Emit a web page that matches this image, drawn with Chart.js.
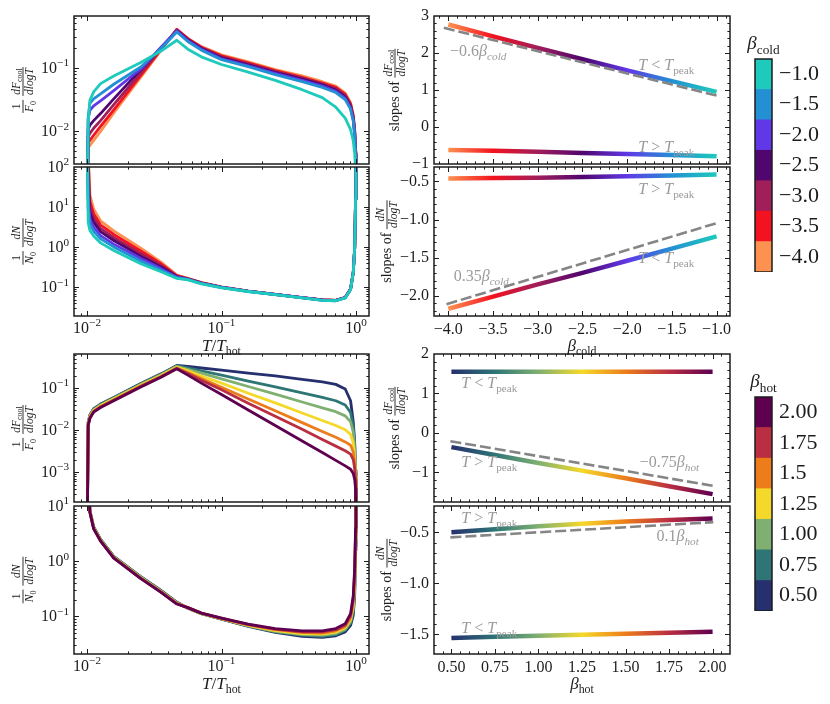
<!DOCTYPE html>
<html>
<head>
<meta charset="utf-8">
<title>cooling flow distributions and slopes</title>
<script src="https://cdn.jsdelivr.net/npm/chart.js@4.4.1/dist/chart.umd.min.js"></script>
<style>
  html, body { margin: 0; padding: 0; background: #fff; }
  #fig { position: relative; width: 830px; height: 704px; overflow: hidden; background: #fff; }
  #fig .box { position: absolute; }
</style>
</head>
<body>
<div id="fig"></div>
<script>
// ---------------- data ----------------
// T / T_hot grid shared by the four left panels
const tGrid = [0.0100, 0.0102, 0.0105, 0.0112, 0.0126, 0.0158, 0.0251, 0.0355, 0.0465,
  0.0562, 0.0708, 0.100, 0.158, 0.251, 0.398, 0.562, 0.708, 0.832, 0.912, 0.955, 0.979, 0.993, 1.000];

const betaCold = [-4.0, -3.5, -3.0, -2.5, -2.0, -1.5, -1.0];
const betaColdLabels = ['−4.0', '−3.5', '−3.0', '−2.5', '−2.0', '−1.5', '−1.0'];
const coldColors = ['#fc9150', '#f3121f', '#a01e5a', '#51056e', '#6038e7', '#2390d3', '#1ecabc'];

// log10 of (1/F0) dF_cool/dlogT, one row per beta_cold
const coldFluxLog = [
  [-3.5, -2.25, -2.22, -2.14, -2.00, -1.71, -1.15, -0.73, -0.40, -0.54, -0.67, -0.80, -0.91, -1.03, -1.13, -1.22, -1.29, -1.40, -1.55, -1.74, -1.97, -2.30, -3.5],
  [-3.5, -2.17, -2.14, -2.06, -1.92, -1.66, -1.12, -0.715, -0.40, -0.545, -0.68, -0.815, -0.925, -1.045, -1.15, -1.24, -1.31, -1.42, -1.57, -1.76, -1.99, -2.32, -3.5],
  [-3.5, -2.08, -2.03, -1.95, -1.83, -1.58, -1.08, -0.70, -0.41, -0.555, -0.69, -0.83, -0.94, -1.06, -1.165, -1.255, -1.33, -1.44, -1.59, -1.78, -2.01, -2.34, -3.5],
  [-3.5, -1.97, -1.90, -1.83, -1.72, -1.49, -1.03, -0.69, -0.42, -0.565, -0.70, -0.845, -0.955, -1.075, -1.18, -1.27, -1.35, -1.46, -1.61, -1.80, -2.03, -2.36, -3.5],
  [-3.5, -1.80, -1.67, -1.60, -1.52, -1.36, -1.02, -0.68, -0.42, -0.575, -0.71, -0.86, -0.97, -1.09, -1.20, -1.29, -1.37, -1.48, -1.63, -1.82, -2.05, -2.38, -3.5],
  [-3.5, -1.78, -1.56, -1.49, -1.41, -1.26, -0.99, -0.70, -0.44, -0.59, -0.725, -0.875, -0.985, -1.11, -1.22, -1.31, -1.39, -1.50, -1.65, -1.84, -2.07, -2.40, -3.5],
  [-3.5, -1.85, -1.51, -1.38, -1.25, -1.13, -0.92, -0.74, -0.57, -0.71, -0.83, -0.95, -1.07, -1.20, -1.345, -1.47, -1.62, -1.79, -1.97, -2.15, -2.35, -2.60, -3.5]
];
// log10 of (1/N0) dN/dlogT, one row per beta_cold
const coldCountLog = [
  [3.0, 2.50, 1.30, 0.95, 0.66, 0.41, -0.02, -0.37, -0.69, -0.77, -0.88, -0.985, -1.09, -1.17, -1.25, -1.31, -1.32, -1.25, -1.04, -0.62, 0.0, 1.2, 3.0],
  [3.0, 2.16, 1.14, 0.83, 0.56, 0.32, -0.09, -0.41, -0.705, -0.78, -0.88, -0.99, -1.09, -1.17, -1.25, -1.31, -1.32, -1.25, -1.04, -0.62, 0.0, 1.2, 3.0],
  [3.0, 1.84, 0.99, 0.72, 0.47, 0.24, -0.16, -0.45, -0.72, -0.785, -0.885, -0.99, -1.09, -1.17, -1.25, -1.31, -1.32, -1.25, -1.04, -0.62, 0.0, 1.2, 3.0],
  [3.0, 1.56, 0.86, 0.62, 0.39, 0.17, -0.22, -0.49, -0.73, -0.79, -0.89, -0.995, -1.09, -1.17, -1.25, -1.31, -1.32, -1.25, -1.04, -0.62, 0.0, 1.2, 3.0],
  [3.0, 1.24, 0.71, 0.50, 0.29, 0.08, -0.28, -0.53, -0.745, -0.795, -0.895, -1.0, -1.095, -1.175, -1.255, -1.315, -1.325, -1.255, -1.045, -0.625, 0.0, 1.2, 3.0],
  [3.0, 0.96, 0.58, 0.40, 0.21, 0.01, -0.34, -0.57, -0.76, -0.80, -0.90, -1.0, -1.10, -1.18, -1.26, -1.32, -1.33, -1.26, -1.05, -0.63, 0.0, 1.2, 3.0],
  [3.0, 0.62, 0.42, 0.28, 0.11, -0.08, -0.41, -0.61, -0.775, -0.81, -0.91, -1.01, -1.10, -1.18, -1.26, -1.32, -1.33, -1.26, -1.05, -0.63, 0.0, 1.2, 3.0]
];

const betaHot = [0.50, 0.75, 1.00, 1.25, 1.50, 1.75, 2.00];
const betaHotLabels = ['0.50', '0.75', '1.00', '1.25', '1.5', '1.75', '2.00'];
const hotColors = ['#26306e', '#2e7576', '#7fb071', '#f5d92a', '#ec7d1a', '#ba2e42', '#5e004f'];

const hotFluxLog = [
  [-5, -1.81, -1.64, -1.49, -1.38, -1.22, -0.89, -0.66, -0.46, -0.48, -0.52, -0.57, -0.64, -0.71, -0.79, -0.85, -0.91, -1.02, -1.30, -1.80, -2.30, -2.95, -5],
  [-5, -1.82, -1.65, -1.50, -1.39, -1.23, -0.90, -0.67, -0.47, -0.52, -0.59, -0.69, -0.83, -0.97, -1.11, -1.22, -1.30, -1.40, -1.58, -1.90, -2.40, -3.00, -5],
  [-5, -1.83, -1.66, -1.51, -1.40, -1.24, -0.91, -0.68, -0.48, -0.55, -0.64, -0.78, -0.96, -1.14, -1.33, -1.47, -1.56, -1.66, -1.80, -2.05, -2.50, -3.05, -5],
  [-5, -1.85, -1.68, -1.53, -1.42, -1.26, -0.93, -0.70, -0.50, -0.59, -0.71, -0.88, -1.12, -1.35, -1.59, -1.77, -1.89, -1.99, -2.10, -2.30, -2.65, -3.10, -5],
  [-5, -1.87, -1.70, -1.55, -1.44, -1.28, -0.95, -0.72, -0.52, -0.63, -0.77, -0.98, -1.26, -1.54, -1.82, -2.03, -2.17, -2.28, -2.36, -2.52, -2.80, -3.15, -5],
  [-5, -1.88, -1.71, -1.56, -1.45, -1.29, -0.96, -0.73, -0.53, -0.65, -0.81, -1.04, -1.36, -1.67, -1.98, -2.22, -2.38, -2.49, -2.57, -2.70, -2.92, -3.20, -5],
  [-5, -1.89, -1.72, -1.57, -1.46, -1.30, -0.97, -0.74, -0.54, -0.69, -0.88, -1.15, -1.52, -1.89, -2.26, -2.53, -2.72, -2.85, -2.93, -3.03, -3.18, -3.40, -5]
];
const hotCountLog = [
  [3, 1.6, 0.92, 0.62, 0.40, 0.09, -0.28, -0.53, -0.74, -0.85, -0.95, -1.05, -1.18, -1.29, -1.36, -1.38, -1.35, -1.28, -1.16, -0.98, -0.60, 0.20, 3],
  [3, 1.6, 0.915, 0.615, 0.395, 0.085, -0.285, -0.535, -0.745, -0.85, -0.95, -1.05, -1.17, -1.28, -1.34, -1.36, -1.33, -1.25, -1.12, -0.92, -0.52, 0.27, 3],
  [3, 1.6, 0.91, 0.61, 0.39, 0.08, -0.29, -0.54, -0.75, -0.85, -0.95, -1.04, -1.17, -1.27, -1.33, -1.34, -1.31, -1.23, -1.09, -0.86, -0.43, 0.33, 3],
  [3, 1.6, 0.90, 0.60, 0.38, 0.07, -0.30, -0.55, -0.76, -0.845, -0.945, -1.04, -1.16, -1.255, -1.31, -1.32, -1.285, -1.205, -1.055, -0.80, -0.35, 0.40, 3],
  [3, 1.6, 0.895, 0.595, 0.375, 0.065, -0.305, -0.555, -0.765, -0.84, -0.94, -1.04, -1.15, -1.24, -1.29, -1.30, -1.26, -1.18, -1.02, -0.74, -0.26, 0.47, 3],
  [3, 1.6, 0.89, 0.59, 0.37, 0.06, -0.31, -0.56, -0.77, -0.84, -0.94, -1.03, -1.15, -1.23, -1.28, -1.28, -1.24, -1.155, -0.985, -0.68, -0.18, 0.53, 3],
  [3, 1.6, 0.885, 0.585, 0.365, 0.055, -0.315, -0.565, -0.775, -0.84, -0.94, -1.03, -1.14, -1.22, -1.26, -1.26, -1.22, -1.13, -0.95, -0.62, -0.10, 0.60, 3]
];

// fitted slopes (right panels)
const coldFluxSlopeBelow = [2.77, 2.45, 2.14, 1.83, 1.53, 1.24, 0.95];
const coldFluxSlopeAbove = [-0.62, -0.645, -0.67, -0.70, -0.73, -0.76, -0.79];
const coldFluxFitX = [-4.05, -0.97], coldFluxFitY = [2.68, 0.83];
const coldCountSlopeAbove = [-0.46, -0.455, -0.45, -0.44, -0.43, -0.42, -0.41];
const coldCountSlopeBelow = [-2.17, -2.01, -1.85, -1.70, -1.54, -1.38, -1.22];
const coldCountFitX = [-4.02, -0.98], coldCountFitY = [-2.11, -1.04];

const hotFluxSlopeBelow = [1.55, 1.55, 1.55, 1.55, 1.55, 1.55, 1.55];
const hotFluxSlopeAbove = [-0.36, -0.56, -0.76, -0.955, -1.15, -1.35, -1.55];
const hotFluxFitX = [0.494, 2.004], hotFluxFitY = [-0.21, -1.34];
const hotCountSlopeAbove = [-0.50, -0.47, -0.44, -0.415, -0.395, -0.38, -0.365];
const hotCountSlopeBelow = [-1.535, -1.525, -1.515, -1.505, -1.495, -1.485, -1.475];
const hotCountFitX = [0.494, 2.004], hotCountFitY = [-0.55, -0.40];

// tick labels
const logMajorsColdF = [0.01, 0.1];
const logMajorsColdN = [0.1, 1, 10, 100];
const logMajorsHotF = [0.001, 0.01, 0.1];
const logMajorsHotN = [0.1, 1, 10];
const logMajorsT = [0.01, 0.1, 1];
const ticksBetaCold = [-4.0, -3.5, -3.0, -2.5, -2.0, -1.5, -1.0];
const ticksBetaHot = [0.50, 0.75, 1.00, 1.25, 1.50, 1.75, 2.00];

// ---------------- drawing helpers ----------------
const FONT = '"Liberation Serif", "DejaVu Serif", serif';
const INK = '#1c1c1c';
const NOTE = '#9b9b9b';
const TICK_SIZE = 16;
const fig = document.getElementById('fig');

function partFont(fl, size) {
  const small = fl.indexOf('b') >= 0 || fl.indexOf('p') >= 0;
  return (fl.indexOf('i') >= 0 ? 'italic ' : '') + (small ? size * 0.7 : size).toFixed(1) + 'px ' + FONT;
}
function richWidth(ctx, parts, size) {
  let w = 0;
  parts.forEach(([t, fl]) => { ctx.font = partFont(fl, size); w += ctx.measureText(t).width; });
  return w;
}
function drawRich(ctx, parts, x, y, size, align) {
  const w = richWidth(ctx, parts, size);
  let cx = align === 'center' ? x - w / 2 : align === 'right' ? x - w : x;
  ctx.textAlign = 'left';
  ctx.textBaseline = 'alphabetic';
  parts.forEach(([t, fl]) => {
    ctx.font = partFont(fl, size);
    const dy = fl.indexOf('b') >= 0 ? size * 0.25 : fl.indexOf('p') >= 0 ? -size * 0.42 : 0;
    ctx.fillText(t, cx, y + dy);
    cx += ctx.measureText(t).width;
  });
  return w;
}
function fracWidth(ctx, num, den, size) {
  return Math.max(richWidth(ctx, num, size), richWidth(ctx, den, size)) + 2;
}
function drawFrac(ctx, num, den, x, y, size) {
  const w = fracWidth(ctx, num, den, size);
  drawRich(ctx, num, x + w / 2, y - size * 0.3, size, 'center');
  drawRich(ctx, den, x + w / 2, y + size * 0.85, size, 'center');
  ctx.fillRect(x, y - 0.45, w, 0.9);
  return w;
}
// vertical axis title made of plain text and fractions; x is the fraction bar
function drawYTitle(ctx, items, x, y, ts, fs) {
  ctx.save();
  ctx.translate(x, y);
  ctx.rotate(-Math.PI / 2);
  const widths = items.map(it => it.f ? fracWidth(ctx, it.f[0], it.f[1], fs) : it.gap ? it.gap : richWidth(ctx, it.t, ts));
  let cx = -widths.reduce((s, w) => s + w, 0) / 2;
  items.forEach((it, i) => {
    if (it.f) drawFrac(ctx, it.f[0], it.f[1], cx, 0, fs);
    else if (it.t) drawRich(ctx, it.t, cx, ts * 0.3, ts, 'left');
    cx += widths[i];
  });
  ctx.restore();
}
function expLabel(v) {
  const e = Math.round(Math.log10(v));
  return [['10', ''], [(e < 0 ? '−' : '') + Math.abs(e), 'p']];
}
function logMinors(min, max) {
  const out = [];
  for (let k = -5; k <= 3; k++) for (let m = 2; m <= 9; m++) {
    const v = m * Math.pow(10, k);
    if (v > min && v < max) out.push(v);
  }
  return out;
}
function linMinors(min, max, step) {
  const out = [];
  for (let k = Math.ceil(min / step); k * step < max; k++) out.push(+(k * step).toFixed(4));
  return out;
}
function ticksOn(ctx, a, scale, vals, len, isX) {
  ctx.beginPath();
  vals.forEach(v => {
    const p = Math.round(scale.getPixelForValue(v)) + 0.5;
    if (isX) {
      if (p < a.left + 1 || p > a.right - 1) return;
      ctx.moveTo(p, a.bottom); ctx.lineTo(p, a.bottom - len);
      ctx.moveTo(p, a.top); ctx.lineTo(p, a.top + len);
    } else {
      if (p < a.top + 1 || p > a.bottom - 1) return;
      ctx.moveTo(a.left, p); ctx.lineTo(a.left + len, p);
      ctx.moveTo(a.right, p); ctx.lineTo(a.right - len, p);
    }
  });
  ctx.stroke();
}

// frame, inward ticks on four sides, custom labels and notes
const mplPlugin = {
  id: 'mpl',
  afterDatasetsDraw(chart, args, o) {
    const { ctx, chartArea: a, scales } = chart;
    const xs = scales.x, ys = scales.y;
    ctx.save();
    if (o.notes) {
      ctx.fillStyle = NOTE;
      o.notes.forEach(n => drawRich(ctx, n.parts, xs.getPixelForValue(n.x), ys.getPixelForValue(n.y), 16, 'left'));
    }
    ctx.fillStyle = INK;
    ctx.strokeStyle = INK;
    ctx.lineWidth = 1.5;
    ctx.strokeRect(a.left, a.top, a.right - a.left, a.bottom - a.top);
    if (o.colorbar) {
      drawRich(ctx, o.colorbar, (a.left + a.right) / 2, a.top - 10, 19, 'center');
      ctx.restore();
      return;
    }
    ctx.lineWidth = 1;
    ticksOn(ctx, a, xs, xs.ticks.map(t => t.value), 5, true);
    ticksOn(ctx, a, ys, ys.ticks.map(t => t.value), 5, false);
    ticksOn(ctx, a, xs, o.minorX || [], 2.6, true);
    ticksOn(ctx, a, ys, o.minorY || [], 2.6, false);
    if (o.logLabelsY) ys.ticks.forEach(t => drawRich(ctx, expLabel(t.value), a.left - 5, ys.getPixelForValue(t.value) + 5, TICK_SIZE, 'right'));
    if (o.logLabelsX) xs.ticks.forEach(t => drawRich(ctx, expLabel(t.value), xs.getPixelForValue(t.value), a.bottom + 17, TICK_SIZE, 'center'));
    if (o.xTitle) drawRich(ctx, o.xTitle, (a.left + a.right) / 2, a.bottom + 35, 17, 'center');
    if (o.yTitle) drawYTitle(ctx, o.yTitle, a.left - o.yTitleDx, (a.top + a.bottom) / 2, 14, 11.5);
    ctx.restore();
  }
};

const fitW = w => s => { s.width = w; s.paddingTop = 0; s.paddingBottom = 0; };
const fitH = h => s => { s.height = h; s.paddingLeft = 0; s.paddingRight = 0; };
const fmt = d => v => (v < 0 ? '−' : '') + Math.abs(v).toFixed(d);

function logAxis(lim, majors, fit) {
  return {
    type: 'logarithmic', min: Math.pow(10, lim[0]), max: Math.pow(10, lim[1]),
    grid: { display: false, drawTicks: false }, border: { display: false }, ticks: { display: false },
    afterBuildTicks: s => { s.ticks = majors.map(v => ({ value: v })); },
    afterFit: fit
  };
}
function linAxis(lim, majors, fit, labels, isX) {
  return {
    type: 'linear', min: lim[0], max: lim[1],
    grid: { display: false, drawTicks: false }, border: { display: false },
    ticks: {
      display: !!labels, callback: labels || (() => ''), autoSkip: false, maxRotation: 0,
      color: INK, font: { family: FONT, size: TICK_SIZE }, padding: isX ? 4 : 5
    },
    afterBuildTicks: s => { s.ticks = majors.map(v => ({ value: v })); },
    afterFit: fit
  };
}
function lineSet(xs, ys, color, width, extra) {
  return Object.assign({
    data: xs.map((x, i) => ({ x: x, y: ys[i] })), borderColor: color, borderWidth: width,
    pointRadius: 0, tension: 0, fill: false, borderCapStyle: 'butt', borderJoinStyle: 'round'
  }, extra || {});
}
function gradStroke(colors, x0, x1) {
  return c => {
    const ch = c.chart, xs = ch.scales.x;
    if (!ch.chartArea || !xs) return colors[0];
    const g = ch.ctx.createLinearGradient(xs.getPixelForValue(x0), 0, xs.getPixelForValue(x1), 0);
    colors.forEach((col, i) => g.addColorStop(i / (colors.length - 1), col));
    return g;
  };
}
function makeChart(box, m, type, data, scales, mpl, padRight) {
  const W = m.l + box.w + m.r, H = m.t + box.h + m.b;
  const div = document.createElement('div');
  div.className = 'box';
  div.style.cssText = 'left:' + (box.x - m.l) + 'px;top:' + (box.y - m.t) + 'px;width:' + W + 'px;height:' + H + 'px';
  const cv = document.createElement('canvas');
  cv.width = W; cv.height = H;
  div.appendChild(cv);
  fig.appendChild(div);
  return new Chart(cv, {
    type: type, data: data, plugins: [mplPlugin],
    options: {
      responsive: false, animation: false, devicePixelRatio: 1, events: [],
      layout: { padding: { left: m.pl || 0, top: m.t, right: padRight, bottom: 0 } },
      scales: scales,
      plugins: { legend: { display: false }, tooltip: { enabled: false }, mpl: mpl }
    }
  });
}

// ---------------- layout ----------------
const colL = { x: 74, w: 295 }, colR = { x: 434, w: 296 };
const rowA = { y: 16, h: 148 }, rowB = { y: 167, h: 149 }, rowC = { y: 354, h: 148 }, rowD = { y: 506, h: 148 };
const tLim = [-2.097, 0.097];
const xTitleT = [['T', 'i'], ['/', ''], ['T', 'i'], ['hot', 'b']];
const titleF = [{ f: [[['1', '']], [['F', 'i'], ['0', 'b']]] }, { gap: 4 }, { f: [[['dF', 'i'], ['cool', 'b']], [['dlogT', 'i']]] }];
const titleN = [{ f: [[['1', '']], [['N', 'i'], ['0', 'b']]] }, { gap: 4 }, { f: [[['dN', 'i']], [['dlogT', 'i']]] }];
const slopeF = [{ t: [['slopes of ', '']] }, { f: [[['dF', 'i'], ['cool', 'b']], [['dlogT', 'i']]] }];
const slopeN = [{ t: [['slopes of ', '']] }, { f: [[['dN', 'i']], [['dlogT', 'i']]] }];
const tBelow = [['T', 'i'], [' < ', ''], ['T', 'i'], ['peak', 'b']];
const tAbove = [['T', 'i'], [' > ', ''], ['T', 'i'], ['peak', 'b']];

function leftPanel(col, row, yLim, yMajors, rows, colors, bottom, yTitle) {
  const m = { l: 74, r: 8, t: bottom ? 12 : 10, b: bottom ? 44 : 4 };
  const n = rows.length;
  const datasets = rows.map((r, i) => lineSet(tGrid, r.map(v => Math.pow(10, v)), colors[i], 2.8, { order: n - i }));
  const minY = Math.pow(10, yLim[0]), maxY = Math.pow(10, yLim[1]);
  return makeChart({ x: col.x, w: col.w, y: row.y, h: row.h }, m, 'line', { datasets: datasets }, {
    x: logAxis(tLim, logMajorsT, fitH(m.b)),
    y: logAxis(yLim, yMajors, fitW(m.l))
  }, {
    minorX: logMinors(Math.pow(10, tLim[0]), Math.pow(10, tLim[1])), minorY: logMinors(minY, maxY),
    logLabelsY: true, logLabelsX: bottom, xTitle: bottom ? xTitleT : null,
    yTitle: yTitle, yTitleDx: 51
  }, m.r);
}

function rightPanel(col, row, xLim, xMajors, xFmt, xMinStep, yLim, yMajors, yFmt, yMinStep, lines, notes, bottom, yTitle, dx, xTitle) {
  const m = { l: 64, r: 8, t: bottom ? 12 : 10, b: bottom ? 44 : 4 };
  return makeChart({ x: col.x, w: col.w, y: row.y, h: row.h }, m, 'line', { datasets: lines }, {
    x: linAxis(xLim, xMajors, fitH(m.b), bottom ? fmt(xFmt) : null, true),
    y: linAxis(yLim, yMajors, fitW(m.l), fmt(yFmt), false)
  }, {
    minorX: linMinors(xLim[0], xLim[1], xMinStep), minorY: linMinors(yLim[0], yLim[1], yMinStep),
    notes: notes, xTitle: bottom ? xTitle : null, yTitle: yTitle, yTitleDx: dx
  }, m.r);
}

function colorbar(row, labels, colors, title) {
  const m = { l: 16, pl: 16, r: 62, t: 40, b: 3 };
  const datasets = colors.map((c, i) => ({ data: [1], backgroundColor: c, borderWidth: 0, stack: 's' }));
  return makeChart({ x: 755, w: 17, y: row.y, h: row.h }, m, 'bar', { labels: ['cb'], datasets: datasets }, {
    x: { display: false, stacked: true },
    y: {
      type: 'linear', position: 'right', stacked: true, min: 0, max: labels.length,
      grid: { display: false, drawTicks: false }, border: { display: false },
      ticks: { callback: (v, i) => labels[i], color: INK, font: { family: FONT, size: 22 }, padding: 7, autoSkip: false },
      afterBuildTicks: s => { s.ticks = labels.map((l, i) => ({ value: i + 0.5 })); },
      afterFit: fitW(m.r)
    }
  }, { colorbar: title }, 0);
}
Chart.defaults.datasets.bar.barPercentage = 1;
Chart.defaults.datasets.bar.categoryPercentage = 1;

// ---------------- panels ----------------
leftPanel(colL, rowA, [-2.51, -0.19], logMajorsColdF, coldFluxLog, coldColors, false, titleF);
leftPanel(colL, rowB, [-1.71, 2.0], logMajorsColdN, coldCountLog, coldColors, true, titleN);
leftPanel(colL, rowC, [-3.71, -0.187], logMajorsHotF, hotFluxLog, hotColors, false, titleF);
leftPanel(colL, rowD, [-1.68, 1.0], logMajorsHotN, hotCountLog, hotColors, true, titleN);

const dash = { borderDash: [11, 4] };
const coldGrad = gradStroke(coldColors, betaCold[0], betaCold[betaCold.length - 1]);
const hotGrad = gradStroke(hotColors, betaHot[0], betaHot[betaHot.length - 1]);
const xLimCold = [-4.16, -0.85], xLimHot = [0.40, 2.10];
const xTitleCold = [['β', 'i'], ['cold', 'b']], xTitleHot = [['β', 'i'], ['hot', 'b']];

rightPanel(colR, rowA, xLimCold, ticksBetaCold, 1, 0.1, [-1, 3], [-1, 0, 1, 2, 3], 0, 0.2, [
  lineSet(coldFluxFitX, coldFluxFitY, '#858585', 2.6, dash),
  lineSet(betaCold, coldFluxSlopeBelow, coldGrad, 4.5),
  lineSet(betaCold, coldFluxSlopeAbove, coldGrad, 4.5)
], [
  { x: -3.98, y: 1.92, parts: [['−0.6', ''], ['β', 'i'], ['cold', 'ib']] },
  { x: -1.875, y: 1.55, parts: tBelow },
  { x: -1.875, y: -0.68, parts: tAbove }
], false, slopeF, 39);

rightPanel(colR, rowB, xLimCold, ticksBetaCold, 1, 0.1, [-2.265, -0.31], [-2.0, -1.5, -1.0, -0.5], 1, 0.1, [
  lineSet(coldCountFitX, coldCountFitY, '#858585', 2.6, dash),
  lineSet(betaCold, coldCountSlopeAbove, coldGrad, 4.5),
  lineSet(betaCold, coldCountSlopeBelow, coldGrad, 4.5)
], [
  { x: -3.94, y: -1.80, parts: [['0.35', ''], ['β', 'i'], ['cold', 'ib']] },
  { x: -1.875, y: -0.66, parts: tAbove },
  { x: -1.875, y: -1.565, parts: tBelow }
], true, slopeN, 47, xTitleCold);

rightPanel(colR, rowC, xLimHot, ticksBetaHot, 2, 0.05, [-1.75, 2.0], [-1, 0, 1, 2], 0, 0.2, [
  lineSet(hotFluxFitX, hotFluxFitY, '#858585', 2.6, dash),
  lineSet(betaHot, hotFluxSlopeBelow, hotGrad, 4.5),
  lineSet(betaHot, hotFluxSlopeAbove, hotGrad, 4.5)
], [
  { x: 0.557, y: 1.15, parts: tBelow },
  { x: 0.557, y: -0.86, parts: tAbove },
  { x: 1.582, y: -0.87, parts: [['−0.75', ''], ['β', 'i'], ['hot', 'ib']] }
], false, slopeF, 39);

rightPanel(colR, rowD, xLimHot, ticksBetaHot, 2, 0.05, [-1.693, -0.242], [-1.5, -1.0, -0.5], 1, 0.1, [
  lineSet(hotCountFitX, hotCountFitY, '#858585', 2.6, dash),
  lineSet(betaHot, hotCountSlopeAbove, hotGrad, 4.5),
  lineSet(betaHot, hotCountSlopeBelow, hotGrad, 4.5)
], [
  { x: 0.557, y: -0.406, parts: tAbove },
  { x: 1.678, y: -0.59, parts: [['0.1', ''], ['β', 'i'], ['hot', 'ib']] },
  { x: 0.557, y: -1.49, parts: tBelow }
], true, slopeN, 47, xTitleHot);

colorbar({ y: 59, h: 210 }, betaColdLabels, coldColors, [['β', 'i'], ['cold', 'b']]);
colorbar({ y: 397, h: 211 }, betaHotLabels, hotColors, [['β', 'i'], ['hot', 'b']]);
</script>
</body>
</html>
